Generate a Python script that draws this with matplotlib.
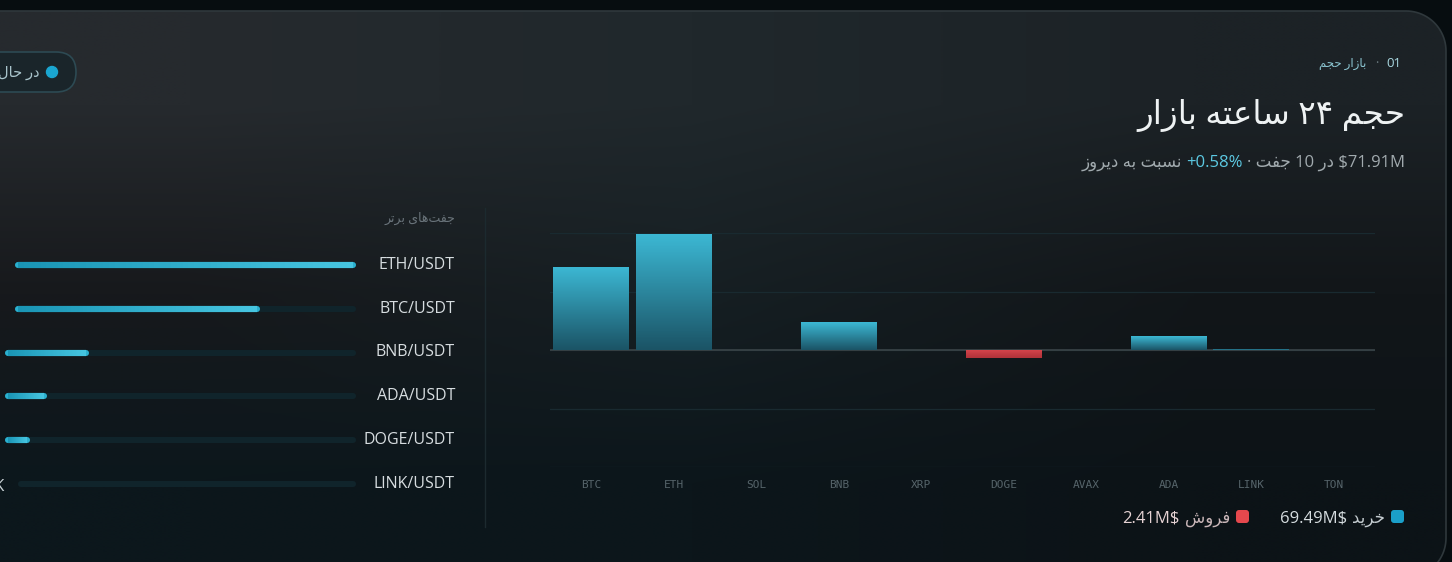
import re
import numpy as np
import matplotlib
matplotlib.use('Agg')
import matplotlib.pyplot as plt
from matplotlib.patches import FancyBboxPatch, Circle, Polygon
from matplotlib.colors import LinearSegmentedColormap, to_rgb
from matplotlib.collections import LineCollection

# ---- data ----
coins = ['BTC', 'ETH', 'SOL', 'BNB', 'XRP', 'DOGE', 'AVAX', 'ADA', 'LINK', 'TON']
net_flow = [23.9, 33.3, 0.0, 8.0, 0.0, -2.41, 0.0, 4.0, 0.29, 0.0]   # $M, sell < 0

top_pairs = ['ETH/USDT', 'BTC/USDT', 'BNB/USDT', 'ADA/USDT', 'DOGE/USDT', 'LINK/USDT']
pair_volume = [33.3, 23.9, 8.0, 4.0, 2.41, 0.29]   # $M

total_volume = 71.91
pair_count = 10
change_pct = 0.58
buy_total = 69.49
sell_total = 2.41

eyebrow_num = '01'
eyebrow_txt = 'بازار حجم'
title_txt = 'حجم ۲۴ ساعته بازار'
badge_txt = 'در حال بروزرسانی'
panel_txt = 'جفت‌های برتر'
buy_txt = 'خرید'
sell_txt = 'فروش'

# ---- tiny arabic shaper (matplotlib has no complex text layout) ----
FORMS = {
    'ا': (0xFE8D, 0xFE8E, None, None), 'ب': (0xFE8F, 0xFE90, 0xFE91, 0xFE92),
    'ت': (0xFE95, 0xFE96, 0xFE97, 0xFE98), 'ج': (0xFE9D, 0xFE9E, 0xFE9F, 0xFEA0),
    'ح': (0xFEA1, 0xFEA2, 0xFEA3, 0xFEA4), 'خ': (0xFEA5, 0xFEA6, 0xFEA7, 0xFEA8),
    'د': (0xFEA9, 0xFEAA, None, None), 'ر': (0xFEAD, 0xFEAE, None, None),
    'ز': (0xFEAF, 0xFEB0, None, None), 'س': (0xFEB1, 0xFEB2, 0xFEB3, 0xFEB4),
    'ش': (0xFEB5, 0xFEB6, 0xFEB7, 0xFEB8), 'ع': (0xFEC9, 0xFECA, 0xFECB, 0xFECC),
    'ف': (0xFED1, 0xFED2, 0xFED3, 0xFED4), 'ل': (0xFEDD, 0xFEDE, 0xFEDF, 0xFEE0),
    'م': (0xFEE1, 0xFEE2, 0xFEE3, 0xFEE4), 'ن': (0xFEE5, 0xFEE6, 0xFEE7, 0xFEE8),
    'ه': (0xFEE9, 0xFEEA, 0xFEEB, 0xFEEC), 'و': (0xFEED, 0xFEEE, None, None),
    'ی': (0xFBFC, 0xFBFD, 0xFBFE, 0xFBFF),
}


def shape(s):
    out = []
    for i, c in enumerate(s):
        if c == '\u200c':
            continue
        if c not in FORMS:
            out.append(c)
            continue
        prev = s[i - 1] if i > 0 else ''
        nxt = s[i + 1] if i + 1 < len(s) else ''
        jp = prev in FORMS and FORMS[prev][2] is not None
        jn = FORMS[c][2] is not None and nxt in FORMS
        iso, fin, ini, med = FORMS[c]
        out.append(chr(med if jp and jn else fin if jp else ini if jn else iso))
    return ''.join(out)


def rtl(s):
    v = shape(s)[::-1]
    return re.sub(r'[0-9A-Za-z۰-۹.$%+/]+', lambda m: m.group(0)[::-1], v)


FONT = ['Open Sans', 'DejaVu Sans']
W, H = 1452, 562
fig = plt.figure(figsize=(W / 100, H / 100), dpi=100)
fig.patch.set_facecolor('#070d10')
renderer = fig.canvas.get_renderer()

bg = fig.add_axes([0, 0, 1, 1])
bg.axis('off')

# card outline: square on the left (off canvas), rounded on the right
x0, y0, x1, y1, r = -60, 11, 1446, 578, 40
t = np.linspace(0, np.pi / 2, 24)
pts = [(x0, y0)]
pts += [(x1 - r + r * np.sin(a), y0 + r - r * np.cos(a)) for a in t]
pts += [(x1 - r + r * np.cos(a), y1 - r + r * np.sin(a)) for a in t]
pts += [(x0, y1)]
card = Polygon(pts, closed=True, fc='none', ec='#2f383c', lw=1.2, zorder=2)
bg.add_patch(card)
grid = np.array([[to_rgb(c) for c in row] for row in [
    ['#262a2e', '#20282c', '#1c2226'],
    ['#17191c', '#161f23', '#121619'],
    ['#0c171c', '#0c161b', '#0c1317']]])
im = bg.imshow(grid, extent=(x0, x1, y1, y0), interpolation='bilinear',
               aspect='auto', zorder=1)
im.set_clip_path(card)
bg.set_xlim(0, W)
bg.set_ylim(H, 0)

# status pill
pill = FancyBboxPatch((-40, 52), 116, 40, boxstyle='round,pad=0,rounding_size=20',
                      fc='#1a252a', ec='#2d4a53', lw=1.2, zorder=3)
bg.add_patch(pill)
bg.add_patch(Circle((52, 72), 5.5, color='#1aa6d0', zorder=4))
bg.text(39, 77, rtl(badge_txt), ha='right', va='baseline', color='#a9c4cb',
        fontsize=10.5, family=FONT, zorder=4)


def place_rtl(x, y, pieces, gap=5):
    # pieces in logical (right-to-left) order
    for txt, kw in pieces:
        tx = bg.text(x, y, txt, ha='right', va='baseline', zorder=5, **kw)
        x -= tx.get_window_extent(renderer).width + gap
    return x


# header
place_rtl(1401, 67, [(eyebrow_num, dict(color='#a9d8e1', fontsize=9.5, family=FONT)),
                     ('·', dict(color='#6c7b81', fontsize=9, family=FONT)),
                     (rtl(eyebrow_txt), dict(color='#8cc6d2', fontsize=8.5, family=FONT))],
          gap=8)
bg.text(1405, 124, rtl(title_txt), ha='right', va='baseline', color='#eef2f3',
        fontsize=23.5, family=FONT, zorder=5)
grey = dict(color='#a1aaae', fontsize=12, family=FONT)
place_rtl(1405, 167, [(rtl(f'${total_volume}M در {pair_count} جفت ·'), grey),
                      (rtl(f'+{change_pct}%'), dict(color='#5cc9e2', fontsize=12, family=FONT)),
                      (rtl('نسبت به دیروز'), grey)], gap=4)

# divider + panel title
bg.plot([485, 485], [208, 527], color='#1c2a2f', lw=1, zorder=3)
bg.text(455, 222, rtl(panel_txt), ha='right', va='baseline', color='#69737a',
        fontsize=9, family=FONT, zorder=5)

# ---- top pairs panel ----
pax = fig.add_axes([5 / W, (H - 506) / H, 351 / W, 263 / H])
pax.axis('off')
pax.set_xlim(0, 1)
pax.set_ylim(len(top_pairs) - 0.5, -0.5)
px = 1 / 351
track_start = [15, 15, 5, 5, 5, 18]   # px from panel left (after value label)
cap = 3 * px
fill_cmap = LinearSegmentedColormap.from_list('fill', ['#1a95b5', '#46c5e0'])
vmax = max(pair_volume)
for i, (name, v) in enumerate(zip(top_pairs, pair_volume)):
    s = (track_start[i] - 5) * px
    pax.plot([s + cap, 1 - cap], [i, i], color='#10242b', lw=4.4,
             solid_capstyle='round', zorder=1)
    e = s + (v / vmax) * (1 - s)
    pax.plot([s + cap, max(e - cap, s + cap)], [i, i], color='#2bb0cf', lw=4.4,
             solid_capstyle='round', zorder=2)
    if e - s > 4 * cap:
        xs = np.linspace(s + cap, e - cap, 60)
        segs = [[(xs[k], i), (xs[k + 1], i)] for k in range(len(xs) - 1)]
        lc = LineCollection(segs, colors=fill_cmap(np.linspace(0, 1, len(segs))),
                            lw=4.4, capstyle='butt', zorder=3)
        pax.add_collection(lc)
    lbl = f'${v:.2f}M' if v >= 1 else f'${v * 1000:.0f}K'
    pax.text(s - 14 * px, i, lbl, ha='right', va='center_baseline', color='#c9d2d6',
             fontsize=12, family=FONT, clip_on=False)
    pax.text(1 + 99 * px, i - 0.05, name, ha='right', va='center_baseline',
             color='#d7dde0', fontsize=11.5, family=FONT, clip_on=False)

# ---- net flow bar chart ----
cax = fig.add_axes([550 / W, (H - 467) / H, 825 / W, 234 / H])
cax.set_facecolor('none')
x = np.arange(len(coins))
m = max(abs(v) for v in net_flow) * 1.008
bars = cax.bar(x, net_flow, width=0.92, color='none', zorder=3)
buy_cmap = LinearSegmentedColormap.from_list('buy', ['#1b5466', '#3cb8d4'])
sell_cmap = LinearSegmentedColormap.from_list('sell', ['#b0333a', '#d8454c'])
for b, v in zip(bars, net_flow):
    if v == 0:
        continue
    bx, bw = b.get_x(), b.get_width()
    g = np.linspace(0, 1, 80).reshape(-1, 1)
    if v > 0:
        img = cax.imshow(g, extent=(bx, bx + bw, 0, v), origin='lower', cmap=buy_cmap,
                         aspect='auto', zorder=3)
    else:
        img = cax.imshow(g, extent=(bx, bx + bw, v, 0), origin='lower', cmap=sell_cmap,
                         aspect='auto', zorder=3)
    img.set_clip_path(b)
cax.set_xlim(-0.5, len(coins) - 0.5)
cax.set_ylim(-m, m)
cax.set_yticks([-m, -m / 2, 0, m / 2, m])
cax.yaxis.grid(True, color='#192a30', lw=0.9)
cax.set_axisbelow(True)
cax.axhline(0, color='#3a4448', lw=1.2, zorder=2)
cax.tick_params(axis='y', length=0, labelleft=False)
cax.set_xticks(x, coins)
cax.tick_params(axis='x', length=0, pad=9, labelsize=8, labelcolor='#56646a')
for tl in cax.get_xticklabels():
    tl.set_fontfamily('DejaVu Sans Mono')
for sp in cax.spines.values():
    sp.set_visible(False)

# ---- legend (right to left) ----
leg = dict(fontsize=12, family=FONT)
bg.add_patch(FancyBboxPatch((1391, 510), 13, 13, boxstyle='round,pad=0,rounding_size=3',
                            fc='#1a9fc9', ec='none', zorder=5))
lx = place_rtl(1385, 523, [(rtl(buy_txt), dict(color='#c3cbcf', **leg)),
                           (f'{buy_total}M$', dict(color='#d5dcdf', **leg))])
rx = lx - 26
bg.add_patch(FancyBboxPatch((rx - 13, 510), 13, 13, boxstyle='round,pad=0,rounding_size=3',
                            fc='#e5484d', ec='none', zorder=5))
place_rtl(rx - 19, 523, [(rtl(sell_txt), dict(color='#c9b6b8', **leg)),
                         (f'{sell_total}M$', dict(color='#e6d3d4', **leg))])

fig.savefig('out.png', dpi=100, facecolor=fig.get_facecolor())
